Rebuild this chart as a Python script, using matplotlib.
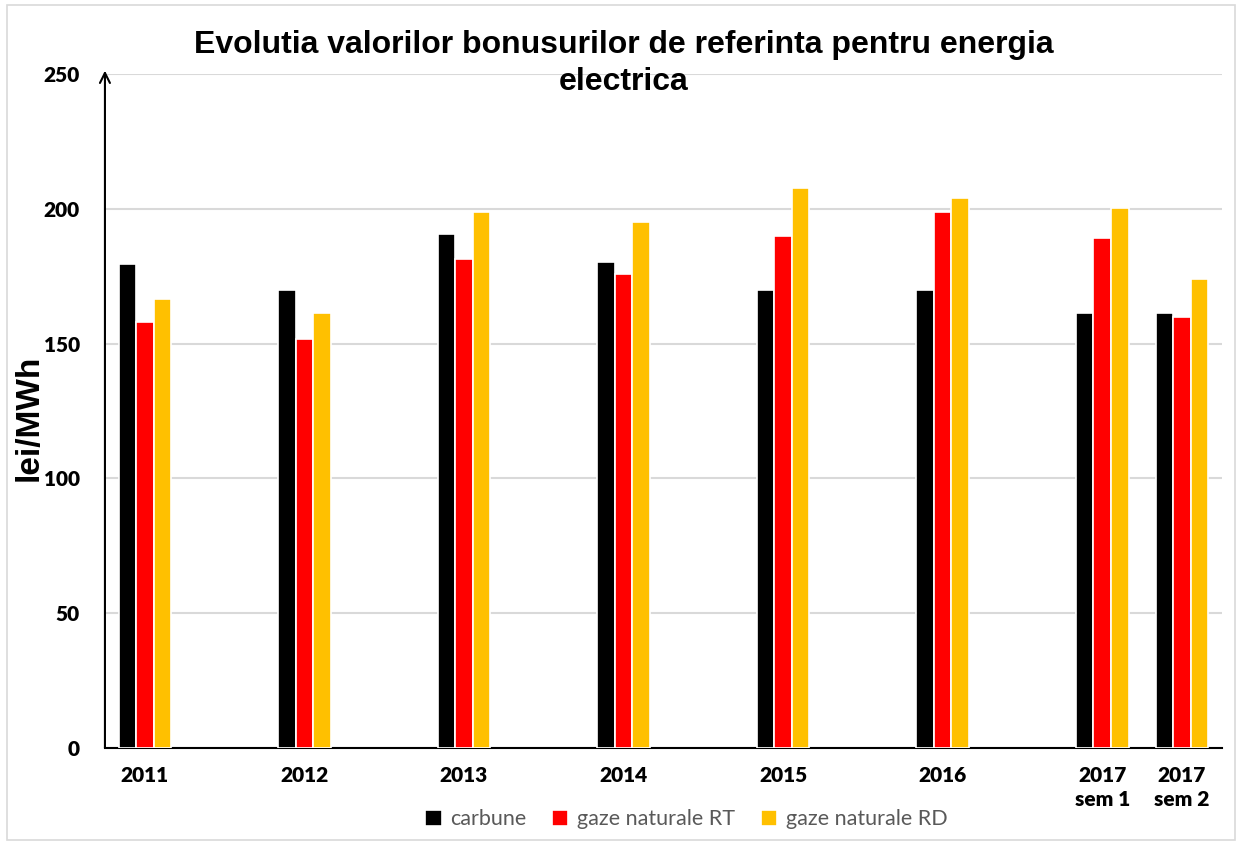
import matplotlib
matplotlib.use("Agg")
import matplotlib.pyplot as plt
from matplotlib.patches import Rectangle

# data
x_pos = [2011, 2012, 2013, 2014, 2015, 2016, 2017, 2017.5]
x_labels = ["2011", "2012", "2013", "2014", "2015", "2016", "2017\nsem 1", "2017\nsem 2"]
carbune = [179.7, 170.0, 190.8, 180.4, 170.0, 170.0, 161.2, 161.2]
gaze_rt = [158.1, 151.6, 181.2, 175.9, 189.9, 198.7, 189.3, 159.8]
gaze_rd = [166.4, 161.2, 198.7, 195.0, 207.6, 203.9, 200.2, 173.8]
series = [("carbune", carbune, "#000000"),
          ("gaze naturale RT", gaze_rt, "#FF0000"),
          ("gaze naturale RD", gaze_rd, "#FFC000")]

fig = plt.figure(figsize=(12.39, 8.43), dpi=100)
ax = fig.add_axes([0.0847, 0.1127, 0.9015, 0.7995])

w = 0.11
for i, (name, vals, col) in enumerate(series):
    xs = [x + (i - 1) * w for x in x_pos]
    ax.bar(xs, vals, width=w, color=col, edgecolor="white", linewidth=1.2,
           label=name, zorder=3)

ax.set_xlim(2010.75, 2017.75)
ax.set_ylim(0, 250)
ax.set_yticks([0, 50, 100, 150, 200, 250])
ax.yaxis.grid(True, color="#d9d9d9", linewidth=1.5, zorder=0)
ax.set_axisbelow(True)

ax.set_xticks(x_pos)
ax.set_xticklabels(x_labels, fontfamily="Lato", fontweight="heavy", fontsize=15,
                   linespacing=1.3)
for lab in ax.get_yticklabels():
    lab.set_fontfamily("Lato")
    lab.set_fontweight("heavy")
    lab.set_fontsize(15)
ax.tick_params(axis="both", length=0)
ax.tick_params(axis="y", pad=18)
ax.tick_params(axis="x", pad=13)

for s in ["top", "right", "left"]:
    ax.spines[s].set_visible(False)
ax.spines["bottom"].set_color("#000000")
ax.spines["bottom"].set_linewidth(1.5)

# y axis drawn as an arrow
ax.annotate("", xy=(0, 1.005), xytext=(0, 0), xycoords="axes fraction",
            arrowprops=dict(arrowstyle="->", lw=1.5, color="black",
                            mutation_scale=18, shrinkA=0, shrinkB=0))

ax.set_ylabel("lei/MWh", fontfamily="Liberation Sans", fontweight="bold",
              fontsize=24)
ax.yaxis.set_label_coords(-0.054, 0.49)

fig.text(0.5036, 0.937, "Evolutia valorilor bonusurilor de referinta pentru energia",
         ha="center", va="baseline", fontfamily="Liberation Sans",
         fontweight="bold", fontsize=23)
fig.text(0.5036, 0.893, "electrica",
         ha="center", va="baseline", fontfamily="Liberation Sans",
         fontweight="bold", fontsize=23)

leg = fig.legend(loc="center", bbox_to_anchor=(0.554, 0.028), ncol=3,
                 frameon=False, handlelength=0.75, handleheight=0.75,
                 handletextpad=0.4, columnspacing=1.2,
                 prop={"family": "Lato", "size": 15.5})
for t in leg.get_texts():
    t.set_color("#595959")

# light outer border like the source
fig.patches.append(Rectangle((0.006, 0.004), 0.991, 0.99, transform=fig.transFigure,
                             fill=False, edgecolor="#d9d9d9", linewidth=1.2))

fig.savefig("out.png", dpi=100)
